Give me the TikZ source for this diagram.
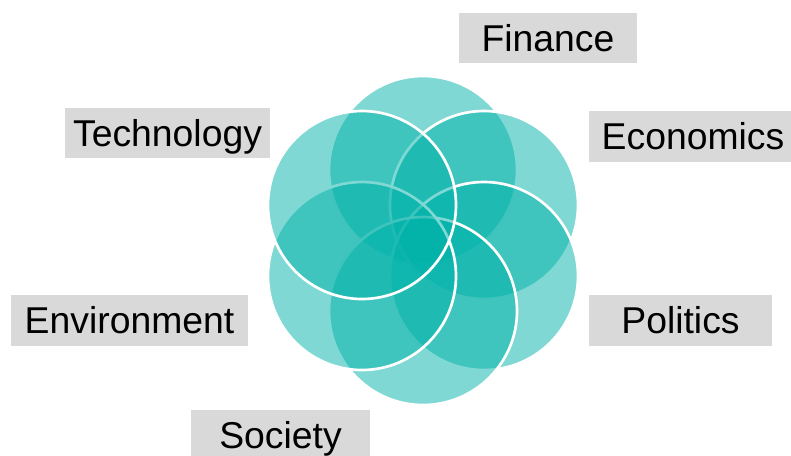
\documentclass[tikz,border=0pt]{standalone}
\usepackage{fontspec}
\setmainfont{Liberation Sans}
\usepackage{xcolor}
\usepackage{tikz}

\definecolor{petalteal}{RGB}{0,178,169}
\definecolor{taggray}{RGB}{217,217,217}

\begin{document}
\begin{tikzpicture}[x=0.75pt,y=-0.75pt,
    petal/.style={fill=petalteal,fill opacity=0.5,draw=white,line width=2pt},
    tag/.style={fill=taggray,inner sep=0pt,minimum height=38pt,text height=20pt,text depth=0pt,font=\fontsize{28}{34}\selectfont}]
\useasboundingbox (0,0) rectangle (791,455);
% petals, clockwise from the top
\foreach \cx/\cy in {423/170, 484/205, 484/276, 423/311, 362/276, 362/205}
    \filldraw[petal] (\cx,\cy) circle (70.5pt);
% labels
\node[tag,minimum width=133.5pt] (finance) at (548,38) {Finance};
\node[tag,minimum width=156pt] (economics) at (693,136.5) {Economics};
\node[tag,minimum width=137.25pt] (politics) at (680.5,320.5) {Politics};
\node[tag,minimum width=134.25pt] (society) at (280.5,435.5) {Society};
\node[tag,minimum width=177.75pt] (environment) at (129.5,320.5) {Environment};
\node[tag,minimum width=153.75pt] (technology) at (167.5,133) {Technology};
\end{tikzpicture}
\end{document}
